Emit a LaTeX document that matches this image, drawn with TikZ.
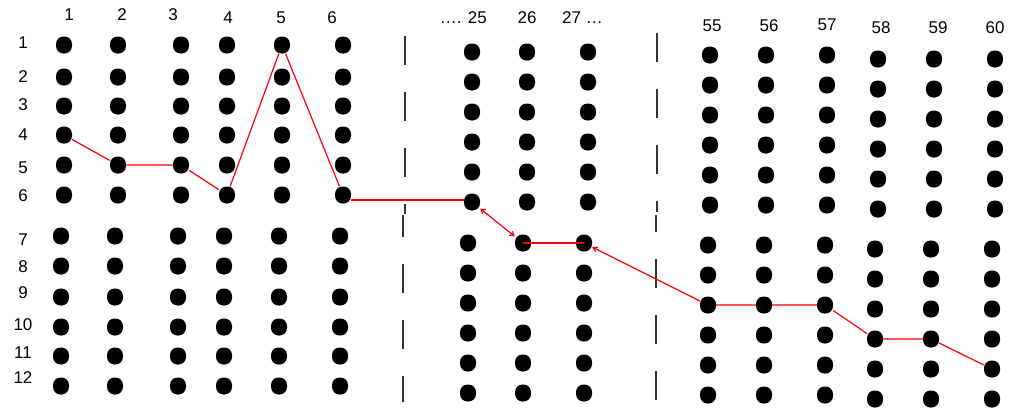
\documentclass[tikz,border=0pt]{standalone}
\usepackage{fontspec}
\setmainfont{Liberation Sans}
\usetikzlibrary{arrows.meta}

\tikzset{
  dot/.style={rectangle,rounded corners=7.5pt,fill=black,minimum width=16pt,minimum height=17pt,inner sep=0pt},
  lab/.style={font=\fontsize{17}{20}\selectfont,inner sep=0pt},
  route/.style={draw=red,line width=1.2pt},
  barb/.tip={Straight Barb[length=4pt,width=5pt]},
  sep/.style={black!80,line width=1.3pt,dash pattern=on 29pt off 27pt}
}

\begin{document}
\begin{tikzpicture}[x=1pt,y=-1pt]
    \useasboundingbox (0,0) rectangle (1013,410);

    % Row labels
    \foreach \r/\y in {1/43,2/77,3/105,4/135,5/168,6/196,7/240,8/267,9/293,10/325,11/353,12/378}
        \node[lab] (r\r) at (23,\y) {\r};

    % Column labels
    \foreach \c/\x/\y in {1/69/15,2/122/15,3/173/15,4/228/18,5/281/18,6/332/18,26/527/18,
                          55/712/26,56/769/26,57/827/25,58/881/28,59/938/28,60/995/28}
        \node[lab] (c\c) at (\x,\y) {\c};
    \node[lab,anchor=east] (c25) at (487,18) {…. 25};
    \node[lab,anchor=west] (c27) at (562,18) {27 …};

    % Left block
    \foreach \c/\x in {1/64,2/118,3/181,4/227,5/282,6/343}{
        \foreach \r/\y in {1/45,2/77,3/106,4/135,5/165,6/195}
            \node[dot] (d\c-\r) at (\x,\y) {};
        \foreach \r/\y in {7/236,8/266,9/297,10/327,11/356,12/386}
            \node[dot] (d\c-\r) at (\x-3,\y) {};
    }

    % Middle block
    \foreach \c/\x in {25/472,26/527,27/588}{
        \foreach \r in {1,...,6}
            \node[dot] (d\c-\r) at (\x,22+30*\r) {};
        \foreach \r in {7,...,12}
            \node[dot] (d\c-\r) at (\x-4,33+30*\r) {};
    }

    % Right block
    \foreach \c/\x in {55/710,56/766,57/827}{
        \foreach \r in {1,...,6}
            \node[dot] (d\c-\r) at (\x,25+30*\r) {};
        \foreach \r in {7,...,12}
            \node[dot] (d\c-\r) at (\x-2,35+30*\r) {};
    }
    \foreach \c/\x in {58/878,59/934,60/995}{
        \foreach \r in {1,...,6}
            \node[dot] (d\c-\r) at (\x,29+30*\r) {};
        \foreach \r in {7,...,12}
            \node[dot] (d\c-\r) at (\x-3,39+30*\r) {};
    }

    % Separators
    \draw[sep] (405,36) -- (405,214);
    \draw[sep,dash phase=7pt] (403,215) -- (403,402);
    \draw[sep] (657,33) -- (657,212);
    \draw[sep,dash phase=12pt] (656,215) -- (656,402);

    % Path through the states
    \draw[route] (d1-4) -- (d2-5) -- (d3-5) -- (d4-6) -- (d5-1) -- (d6-6);
    \draw[route] ([yshift=-5pt]d6-6.east) -- ([yshift=-5pt]d6-6.east -| d25-6.west);
    \draw[route,barb-barb] (d25-6) -- (d26-7);
    \draw[route] (d26-7.center) -- (d27-7.center);
    \draw[route,barb-] (d27-7) -- (d55-9);
    \draw[route] (d55-9) -- (d56-9) -- (d57-9) -- (d58-10) -- (d59-10) -- (d60-11);
\end{tikzpicture}
\end{document}
